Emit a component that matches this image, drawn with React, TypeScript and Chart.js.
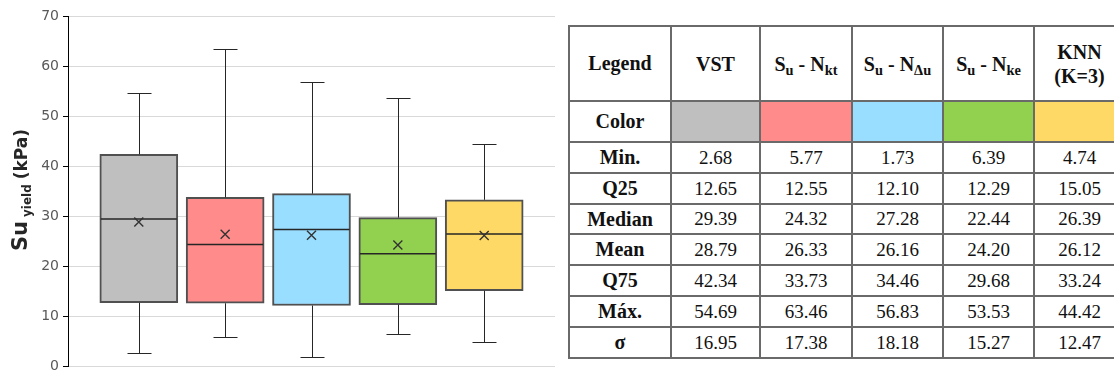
import React, { useEffect, useRef } from 'react';
import { Chart, registerables } from 'chart.js';

Chart.register(...registerables);

// Summary statistics of the undrained shear strength at yield (kPa)
const seriesKeys = ['VST', 'Nkt', 'Ndu', 'Nke', 'KNN'];
const seriesColors = ['#BFBFBF', '#FF8B8B', '#99DDFF', '#92D050', '#FFD966'];
const minValues = [2.68, 5.77, 1.73, 6.39, 4.74];
const q25Values = [12.65, 12.55, 12.1, 12.29, 15.05];
const medianValues = [29.39, 24.32, 27.28, 22.44, 26.39];
const meanValues = [28.79, 26.33, 26.16, 24.2, 26.12];
const q75Values = [42.34, 33.73, 34.46, 29.68, 33.24];
const maxValues = [54.69, 63.46, 56.83, 53.53, 44.42];
const sigmaValues = [16.95, 17.38, 18.18, 15.27, 12.47];

const yMin = 0;
const yMax = 70;
const yStep = 10;

const statRows = [
  { label: 'Min.', values: minValues },
  { label: 'Q25', values: q25Values },
  { label: 'Median', values: medianValues },
  { label: 'Mean', values: meanValues },
  { label: 'Q75', values: q75Values },
  { label: 'Máx.', values: maxValues },
  { label: 'σ', values: sigmaValues },
];

const INK = '#262626';

// Whiskers, caps, median line and mean marker on top of the Q25–Q75 boxes
const boxWhiskerPlugin = {
  id: 'boxWhisker',
  afterDatasetsDraw(chart: any) {
    const { ctx } = chart;
    const y = chart.scales.y;
    const meta = chart.getDatasetMeta(0);
    const hline = (x1: number, x2: number, yy: number) => {
      ctx.beginPath();
      ctx.moveTo(x1, yy);
      ctx.lineTo(x2, yy);
      ctx.stroke();
    };
    const vline = (xx: number, y1: number, y2: number) => {
      ctx.beginPath();
      ctx.moveTo(xx, y1);
      ctx.lineTo(xx, y2);
      ctx.stroke();
    };
    meta.data.forEach((bar: any, i: number) => {
      const { x, width } = bar.getProps(['x', 'width'], true);
      const cx = Math.round(x) + 0.5;
      const left = x - width / 2;
      const right = x + width / 2;
      const pMin = Math.round(y.getPixelForValue(minValues[i])) + 0.5;
      const pMax = Math.round(y.getPixelForValue(maxValues[i])) + 0.5;
      const pQ25 = y.getPixelForValue(q25Values[i]);
      const pQ75 = y.getPixelForValue(q75Values[i]);
      const pMed = y.getPixelForValue(medianValues[i]);
      const pMean = y.getPixelForValue(meanValues[i]);
      const cap = 12;

      ctx.save();
      ctx.strokeStyle = INK;
      ctx.lineWidth = 1;
      vline(cx, pQ75, pMax);
      hline(cx - cap, cx + cap, pMax);
      vline(cx, pQ25, pMin);
      hline(cx - cap, cx + cap, pMin);

      ctx.lineWidth = 1.5;
      hline(left + 1, right - 1, pMed);

      const s = 4.5;
      ctx.lineWidth = 1.4;
      ctx.strokeStyle = '#333333';
      ctx.beginPath();
      ctx.moveTo(x - s, pMean - s);
      ctx.lineTo(x + s, pMean + s);
      ctx.moveTo(x + s, pMean - s);
      ctx.lineTo(x - s, pMean + s);
      ctx.stroke();
      ctx.restore();
    });
  },
};

// Rotated axis title with the "yield" subscript
const axisTitlePlugin = {
  id: 'axisTitle',
  afterDraw(chart: any) {
    const { ctx } = chart;
    const family = '"DejaVu Sans", sans-serif';
    const parts = [
      { text: 'Su', font: `bold 21px ${family}`, dy: 0, gap: 4 },
      { text: 'yield', font: `bold 12px ${family}`, dy: 4, gap: 5 },
      { text: '(kPa)', font: `bold 17px ${family}`, dy: 0, gap: 0 },
    ];
    ctx.save();
    let total = 0;
    const widths = parts.map((p) => {
      ctx.font = p.font;
      const w = ctx.measureText(p.text).width;
      total += w + p.gap;
      return w;
    });
    const centerY = 190;
    ctx.translate(27, centerY + total / 2);
    ctx.rotate(-Math.PI / 2);
    ctx.fillStyle = INK;
    ctx.textBaseline = 'alphabetic';
    let pos = 0;
    parts.forEach((p, i) => {
      ctx.font = p.font;
      ctx.fillText(p.text, pos, p.dy);
      pos += widths[i] + p.gap;
    });
    ctx.restore();
  },
};

function BoxChart() {
  const ref = useRef<HTMLCanvasElement | null>(null);
  useEffect(() => {
    if (!ref.current) return;
    const chart = new Chart(ref.current, {
      type: 'bar',
      data: {
        datasets: [
          {
            data: q25Values.map((q, i) => ({ x: i, y: [q, q75Values[i]] })) as any,
            backgroundColor: seriesColors,
            borderColor: '#505050',
            borderWidth: 2,
            borderSkipped: false,
            barThickness: 78,
          },
        ],
      },
      options: {
        animation: false,
        responsive: false,
        maintainAspectRatio: false,
        layout: { padding: { left: 0, right: 0, top: 16, bottom: 7 } },
        plugins: {
          legend: { display: false },
          tooltip: { enabled: false },
        },
        scales: {
          x: {
            type: 'linear',
            offset: false,
            min: -0.82,
            max: seriesKeys.length - 1 + 0.82,
            display: false,
          },
          y: {
            min: yMin,
            max: yMax,
            ticks: {
              stepSize: yStep,
              color: '#595959',
              font: { family: '"DejaVu Sans", sans-serif', size: 14 },
              padding: 4,
            },
            grid: {
              color: '#d9d9d9',
              tickColor: '#000000',
              tickLength: 5,
            },
            border: { color: '#000000', width: 1 },
            afterFit: (scale: any) => {
              scale.width = 68;
              scale.paddingTop = 0;
              scale.paddingBottom = 0;
            },
          },
        },
      } as any,
      plugins: [boxWhiskerPlugin, axisTitlePlugin],
    });
    return () => chart.destroy();
  }, []);
  return (
    <canvas
      ref={ref}
      width={555}
      height={373}
      style={{ position: 'absolute', left: 0, top: 0, width: 555, height: 373 }}
    />
  );
}

const sub = (t: string) => (
  <sub style={{ fontSize: '0.72em', verticalAlign: '-0.3em', lineHeight: 0 }}>{t}</sub>
);

const headerCells = [
  <>VST</>,
  <>S{sub('u')} - N{sub('kt')}</>,
  <>S{sub('u')} - N{sub('Δu')}</>,
  <>S{sub('u')} - N{sub('ke')}</>,
  <>KNN<br />(K=3)</>,
];

const colWidths = [102, 89, 92, 91, 91, 91];
const rowHeights = [75, 41, 31, 31, 30, 31, 31, 31, 31];

const border = '2px solid #6a6a6a';
const cellBase: React.CSSProperties = {
  border,
  textAlign: 'center',
  verticalAlign: 'middle',
  padding: 0,
  color: '#111',
};
const boldCell: React.CSSProperties = { ...cellBase, fontWeight: 'bold', fontSize: 20 };
const valueCell: React.CSSProperties = { ...cellBase, fontSize: 19 };

function StatsTable() {
  return (
    <table
      style={{
        position: 'absolute',
        left: 568,
        top: 25,
        borderCollapse: 'collapse',
        tableLayout: 'fixed',
        width: colWidths.reduce((a, b) => a + b, 0),
        fontFamily: '"Liberation Serif", serif',
        background: '#fff',
      }}
    >
      <colgroup>
        {colWidths.map((w, i) => (
          <col key={i} style={{ width: w }} />
        ))}
      </colgroup>
      <tbody>
        <tr style={{ height: rowHeights[0] }}>
          <td style={boldCell}>Legend</td>
          {headerCells.map((h, i) => (
            <td key={seriesKeys[i]} style={{ ...boldCell, lineHeight: '24px' }}>
              {h}
            </td>
          ))}
        </tr>
        <tr style={{ height: rowHeights[1] }}>
          <td style={boldCell}>Color</td>
          {seriesColors.map((c, i) => (
            <td key={seriesKeys[i]} style={{ ...cellBase, background: c }} />
          ))}
        </tr>
        {statRows.map((row, r) => (
          <tr key={row.label} style={{ height: rowHeights[r + 2] }}>
            <td style={boldCell}>{row.label}</td>
            {row.values.map((v, i) => (
              <td key={seriesKeys[i]} style={valueCell}>
                {v.toFixed(2)}
              </td>
            ))}
          </tr>
        ))}
      </tbody>
    </table>
  );
}

export default function App() {
  return (
    <div
      style={{
        position: 'fixed',
        left: 0,
        top: 0,
        width: 1114,
        height: 373,
        overflow: 'hidden',
        background: '#fff',
      }}
    >
      <BoxChart />
      <StatsTable />
    </div>
  );
}
